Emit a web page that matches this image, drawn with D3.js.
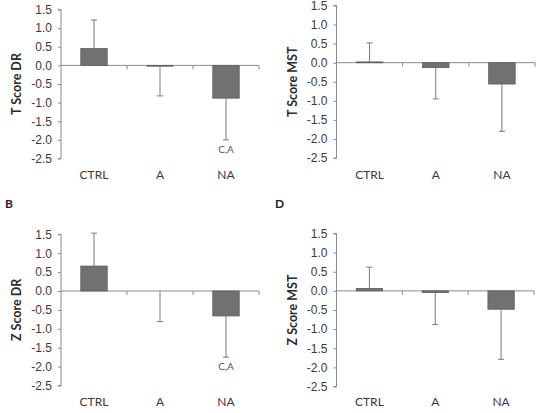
<!DOCTYPE html>
<html><head><meta charset="utf-8">
<script src="https://cdn.jsdelivr.net/npm/d3@7"></script>
<style>
body{margin:0;background:#fff;}
svg{display:block;font-family:Lato,"Liberation Sans",sans-serif;}
</style></head>
<body>
<svg id="c" width="536" height="413"></svg>
<script>
const categories = ["CTRL","A","NA"];
const yTicks = [1.5,1.0,0.5,0.0,-0.5,-1.0,-1.5,-2.0,-2.5];

const tScoreDR   = [0.45, -0.02, -0.88];
const tScoreDRErr = [1.22, -0.82, -2.00];
const tScoreMST  = [0.02, -0.13, -0.56];
const tScoreMSTErr = [0.52, -0.95, -1.80];
const zScoreDR   = [0.66, 0.00, -0.66];
const zScoreDRErr = [1.53, -0.81, -1.75];
const zScoreMST  = [0.06, -0.04, -0.48];
const zScoreMSTErr = [0.62, -0.88, -1.79];

const sigDR = ["", "", "C,A"];
const sigMST = ["", "", ""];

const panels = [
  {title:"T Score DR", vals:tScoreDR, errs:tScoreDRErr, sig:sigDR, letter:"", x0:61, x1:259, yT:9.5, yB:158.5, titleX:17, catY:179},
  {title:"T Score MST", vals:tScoreMST, errs:tScoreMSTErr, sig:sigMST, letter:"", x0:336.5, x1:535, yT:5.5, yB:158, titleX:293, catY:179},
  {title:"Z Score DR", vals:zScoreDR, errs:zScoreDRErr, sig:sigDR, letter:"B", x0:61, x1:259, yT:234.3, yB:385.5, titleX:17, catY:406, lx:5, ly:208},
  {title:"Z Score MST", vals:zScoreMST, errs:zScoreMSTErr, sig:sigMST, letter:"D", x0:336.5, x1:534, yT:233.5, yB:386.5, titleX:293, catY:406, lx:275, ly:208}
];

const svg = d3.select("#c");
const axisCol = "#8a8a8a";

panels.forEach(p => {
  const g = svg.append("g");
  const y = d3.scaleLinear().domain([-2.5,1.5]).range([p.yB,p.yT]);
  const x = d3.scaleBand().domain(categories).range([p.x0,p.x1]).padding(0);
  const bw = x.bandwidth()*0.4;

  // y axis
  const ya = g.append("g").attr("transform",`translate(${p.x0},0)`)
    .call(d3.axisLeft(y).tickValues(yTicks).tickFormat(d3.format(".1f")).tickSize(3).tickPadding(6));
  ya.select(".domain").attr("stroke",axisCol).attr("d",`M-3,${p.yT}H0V${p.yB}H-3`);
  ya.selectAll(".tick line").attr("stroke",axisCol);
  ya.selectAll(".tick text").attr("fill","#3a3a3a").attr("font-size",12).text(d=>d3.format(".1f")(d).replace("−","-"));

  // x axis at zero
  const y0 = y(0);
  g.append("line").attr("x1",p.x0).attr("x2",p.x1).attr("y1",y0).attr("y2",y0).attr("stroke",axisCol).attr("stroke-width",1);
  g.selectAll(".xt").data(categories).enter().append("line")
    .attr("x1",d=>x(d)+x.bandwidth()).attr("x2",d=>x(d)+x.bandwidth())
    .attr("y1",y0).attr("y2",y0+4).attr("stroke",axisCol);

  // bars
  g.selectAll(".bar").data(p.vals).enter().append("rect")
    .attr("x",(d,i)=>x(categories[i])+x.bandwidth()/2-bw/2)
    .attr("width",bw)
    .attr("y",d=>Math.min(y(d),y0))
    .attr("height",d=>Math.max(Math.abs(y(d)-y0),0.8))
    .attr("fill",(d)=>d===0?"none":"#717171")
    .attr("stroke",(d)=>d===0?"none":"#5c5c5c").attr("stroke-width",0.8);

  // error bars
  p.errs.forEach((e,i)=>{
    const cx = x(categories[i])+x.bandwidth()/2;
    g.append("line").attr("x1",cx).attr("x2",cx).attr("y1",y(p.vals[i])).attr("y2",y(e)).attr("stroke","#7a7a7a");
    g.append("line").attr("x1",cx-3).attr("x2",cx+3).attr("y1",y(e)).attr("y2",y(e)).attr("stroke","#7a7a7a");
    if(p.sig[i]) g.append("text").attr("x",cx).attr("y",y(e)+13).attr("text-anchor","middle")
      .attr("font-size",10).attr("fill","#555").text(p.sig[i]);
  });

  // category labels
  g.selectAll(".cl").data(categories).enter().append("text")
    .attr("x",d=>x(d)+x.bandwidth()/2).attr("y",p.catY).attr("text-anchor","middle")
    .attr("font-size",12).attr("fill","#3a3a3a").text(d=>d);

  // axis title
  const cy = (p.yT+p.yB)/2;
  g.append("text").attr("transform",`translate(${p.titleX+4},${cy}) rotate(-90)`)
    .attr("text-anchor","middle").attr("font-size",12.5).attr("font-weight","bold").attr("fill","#2a2a2a").text(p.title);

  if(p.letter) svg.append("text").attr("x",p.lx).attr("y",p.ly).attr("font-size",12).attr("font-weight","bold").attr("fill","#222").text(p.letter);
});
</script>
</body></html>
